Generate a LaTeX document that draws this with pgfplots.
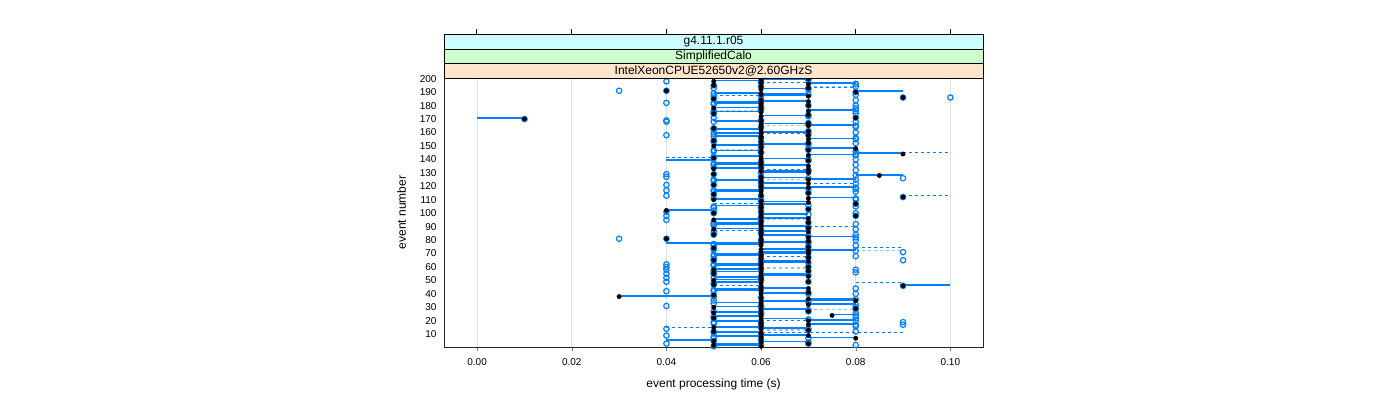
\documentclass[border=0pt]{standalone}
\usepackage{fontspec}
\setmainfont{Liberation Sans}
\usepackage{pgfplots}
\usepackage{pgfplotstable}
\pgfplotsset{compat=1.18}

\definecolor{lblue}{HTML}{0080FF}
\definecolor{pblue}{HTML}{8CC4FF}
\definecolor{stripA}{HTML}{CCFFFF}
\definecolor{stripB}{HTML}{CCFFCC}
\definecolor{stripC}{HTML}{FFE5CC}

% e = event number, b = black dot (this run), c = blue circle (reference)
\pgfplotstableread{
e b c
1 0.06 0.05
2 0.05 0.06
3 0.07 0.07
4 0.06 0.07
5 0.05 0.05
6 0.06 0.06
7 0.08 0.07
8 0.06 0.05
9 0.07 0.06
10 0.06 0.06
11 0.06 0.05
12 0.05 0.05
13 0.07 0.07
14 0.06 0.07
15 0.05 0.06
16 0.06 0.06
17 0.07 0.08
18 0.06 0.06
19 0.06 0.05
20 0.07 0.08
21 0.06 0.07
22 0.05 0.05
23 0.06 0.05
24 0.075 0.08
25 0.06 0.06
26 0.05 0.06
27 0.07 0.07
28 0.06 0.07
29 0.08 0.08
30 0.05 0.06
31 0.06 0.06
32 0.07 0.08
33 0.06 0.05
34 0.06 0.07
35 0.08 0.07
36 0.07 0.08
37 0.06 0.06
38 0.03 0.05
39 0.05 0.05
40 0.06 0.07
41 0.07 0.07
42 0.06 0.05
43 0.06 0.05
44 0.07 0.06
45 0.06 0.06
46 0.09 0.09
47 0.05 0.05
48 0.06 0.05
49 0.07 0.07
50 0.05 0.06
51 0.06 0.06
52 0.06 0.05
53 0.07 0.06
54 0.06 0.07
55 0.05 0.05
56 0.06 0.05
57 0.07 0.07
58 0.05 0.06
59 0.06 0.06
60 0.07 0.07
61 0.06 0.05
62 0.06 0.05
63 0.06 0.07
64 0.07 0.06
65 0.05 0.05
66 0.06 0.06
67 0.07 0.07
68 0.06 0.05
69 0.06 0.05
70 0.07 0.06
71 0.06 0.07
72 0.07 0.08
73 0.06 0.07
74 0.05 0.05
75 0.07 0.07
76 0.06 0.05
77 0.06 0.05
78 0.06 0.07
79 0.07 0.07
80 0.06 0.06
81 0.04 0.04
82 0.07 0.08
83 0.06 0.07
84 0.05 0.05
85 0.06 0.06
86 0.07 0.06
87 0.06 0.06
88 0.05 0.06
89 0.07 0.07
90 0.06 0.07
91 0.06 0.05
92 0.06 0.05
93 0.07 0.07
94 0.06 0.06
95 0.05 0.06
96 0.07 0.06
97 0.06 0.06
98 0.08 0.08
99 0.06 0.07
100 0.05 0.05
101 0.06 0.06
102 0.04 0.05
103 0.07 0.07
104 0.06 0.06
105 0.06 0.05
106 0.06 0.07
107 0.08 0.08
108 0.07 0.06
109 0.06 0.06
110 0.05 0.06
111 0.07 0.08
112 0.09 0.09
113 0.06 0.06
114 0.05 0.05
115 0.07 0.07
116 0.06 0.05
117 0.06 0.05
118 0.06 0.07
119 0.07 0.08
120 0.06 0.06
121 0.05 0.05
122 0.07 0.06
123 0.06 0.06
124 0.06 0.05
125 0.07 0.08
126 0.06 0.07
127 0.06 0.06
128 0.085 0.08
129 0.05 0.05
130 0.07 0.06
131 0.06 0.07
132 0.07 0.07
133 0.05 0.06
134 0.06 0.06
135 0.07 0.06
136 0.06 0.05
137 0.06 0.05
138 0.06 0.06
139 0.07 0.07
140 0.06 0.07
141 0.05 0.05
142 0.06 0.05
143 0.07 0.08
144 0.09 0.08
145 0.06 0.06
146 0.06 0.05
147 0.07 0.07
148 0.08 0.07
149 0.06 0.06
150 0.05 0.06
151 0.06 0.07
152 0.07 0.07
153 0.06 0.06
154 0.05 0.05
155 0.07 0.08
156 0.06 0.06
157 0.06 0.05
158 0.07 0.07
159 0.06 0.05
160 0.06 0.07
161 0.07 0.07
162 0.06 0.05
163 0.05 0.05
164 0.06 0.06
165 0.07 0.08
166 0.06 0.07
167 0.07 0.07
168 0.06 0.05
169 0.06 0.06
170 0.01 0.01
171 0.08 0.08
172 0.06 0.07
173 0.07 0.07
174 0.05 0.05
175 0.06 0.05
176 0.07 0.08
177 0.06 0.06
178 0.05 0.06
179 0.06 0.06
180 0.07 0.07
181 0.06 0.05
182 0.06 0.05
183 0.07 0.06
184 0.06 0.06
185 0.05 0.05
186 0.09 0.09
187 0.07 0.06
188 0.06 0.07
189 0.06 0.05
190 0.08 0.08
191 0.04 0.04
192 0.06 0.07
193 0.07 0.07
194 0.06 0.06
195 0.05 0.05
196 0.07 0.08
197 0.06 0.06
198 0.05 0.06
199 0.06 0.07
200 0.07 0.07
}\events

% further reference circles
\pgfplotstableread{
e x
198 0.04
191 0.03
182 0.04
169 0.04
168 0.04
158 0.04
129 0.04
127 0.04
121 0.04
117 0.04
113 0.04
101 0.04
98 0.04
95 0.04
81 0.03
62 0.04
60 0.04
58 0.04
55 0.04
52 0.04
49 0.04
42 0.04
31 0.04
14 0.04
9 0.04
3 0.04
186 0.10
126 0.09
71 0.09
65 0.09
19 0.09
17 0.09
196 0.08
194 0.08
188 0.08
184 0.08
180 0.08
178 0.08
174 0.08
168 0.08
164 0.08
160 0.08
156 0.08
152 0.08
146 0.08
140 0.08
136 0.08
132 0.08
122 0.08
118 0.08
116 0.08
110 0.08
105 0.08
100 0.08
92 0.08
88 0.08
84 0.08
80 0.08
76 0.08
68 0.08
58 0.08
56 0.08
44 0.08
40 0.08
30 0.08
26 0.08
22 0.08
16 0.08
12 0.08
2 0.08
193 0.05
187 0.05
176 0.05
171 0.05
163 0.05
153 0.05
147 0.05
134 0.05
125 0.05
111 0.05
104 0.05
93 0.05
86 0.05
73 0.05
66 0.05
57 0.05
35 0.05
27 0.05
18 0.05
7 0.05
}\circles

% extra solid steps: e, start, length
\pgfplotstableread{
e x0 len
170 0.00 0.01
190 0.08 0.01
128 0.08 0.01
46 0.09 0.01
139 0.04 0.01
77 0.04 0.01
5 0.04 0.01
}\steps

% dashed steps: e, start, length
\pgfplotstableread{
e x0 len
196 0.06 0.02
192 0.07 0.01
186 0.05 0.01
181 0.05 0.01
158 0.06 0.01
144 0.09 0.01
140 0.04 0.01
131 0.06 0.01
121 0.07 0.01
112 0.09 0.01
106 0.05 0.01
89 0.06 0.02
86 0.05 0.01
73 0.08 0.01
67 0.06 0.01
47 0.08 0.01
45 0.05 0.01
34 0.07 0.01
23 0.05 0.01
19 0.06 0.02
14 0.04 0.01
10 0.05 0.04
}\dashsteps

\pgfplotstableread{
e x0 len
193 0.07 0.01
175 0.05 0.01
164 0.06 0.01
146 0.05 0.01
124 0.06 0.01
94 0.06 0.01
71 0.08 0.01
58 0.06 0.01
27 0.07 0.01
12 0.06 0.01
}\paledash

\pgfplotsset{
    seg/.style={draw=none, mark=none, forget plot,
        error bars/.cd, x dir=plus, x explicit, error mark=none,
        error bar style={#1}},
}

\begin{document}
\begin{tikzpicture}
\useasboundingbox (0pt,0pt) rectangle (1400pt,400pt);
\begin{axis}[
    at={(444pt,53pt)}, anchor=south west,
    scale only axis, width=539pt, height=269pt,
    xmin=-0.0070, xmax=0.1069, ymin=0.5, ymax=200.5,
    xtick={0,0.02,0.04,0.06,0.08,0.1},
    ytick={10,20,...,200},
    scaled x ticks=false,
    xtick pos=bottom, ytick pos=left,
    tick align=outside, major tick length=4pt,
    ytick style={draw=none},
    x tick label style={/pgf/number format/fixed,
        /pgf/number format/fixed zerofill,
        /pgf/number format/precision=2, yshift=-4pt},
    tick label style={font=\fontsize{10}{12}\selectfont},
    /pgf/number format/assume math mode=true,
    xmajorgrids, grid style={black!12, line width=0.6pt},
    axis line style={black!85, line width=0.7pt},
    xlabel={event processing time (s)}, ylabel={event number},
    label style={font=\fontsize{12}{14}\selectfont},
    xlabel style={yshift=-6pt},
    ylabel style={yshift=7pt},
]
\addplot[seg={draw=pblue, line width=1.4pt, dashed}]
    table[x=x0, y expr=\thisrow{e}+1.2, x error=len] {\paledash};
\addplot[seg={draw=lblue, line width=0.8pt, dashed}]
    table[x=x0, y expr=\thisrow{e}+1.2, x error=len] {\dashsteps};
\addplot[seg={draw=lblue, line width=1.7pt, solid}]
    table[x expr={min(\thisrow{b},\thisrow{c})}, y expr=\thisrow{e}+0.6,
          x error expr={abs(\thisrow{b}-\thisrow{c})}] {\events};
\addplot[seg={draw=lblue, line width=1.7pt, solid}]
    table[x=x0, y expr=\thisrow{e}+0.6, x error=len] {\steps};
\addplot[only marks, mark=o, mark size=2.7pt,
    mark options={draw=lblue, line width=1.2pt}]
    table[x=x, y=e] {\circles};
\addplot[only marks, mark=o, mark size=2.7pt,
    mark options={draw=lblue, line width=1.2pt}]
    table[x=c, y=e] {\events};
\addplot[only marks, mark=*, mark size=2.2pt,
    mark options={draw=black, fill=black}]
    table[x=b, y=e] {\events};
\end{axis}
% strips
\draw[fill=stripC, line width=0.7pt] (444pt,322pt) rectangle (983pt,336.5pt);
\draw[fill=stripB, line width=0.7pt] (444pt,336.5pt) rectangle (983pt,351pt);
\draw[fill=stripA, line width=0.7pt] (444pt,351pt) rectangle (983pt,365.5pt);
\node[font=\fontsize{12}{14}\selectfont] at (713.5pt,329.25pt) {IntelXeonCPUE52650v2@2.60GHzS};
\node[font=\fontsize{12}{14}\selectfont] at (713.5pt,343.75pt) {SimplifiedCalo};
\node[font=\fontsize{12}{14}\selectfont] at (713.5pt,358.25pt) {g4.11.1.r05};
\foreach \t in {476.5,571.3,666.1,760.9,855.7,950.5}
    \draw[line width=0.7pt] (\t pt,365.5pt) -- (\t pt,370.8pt);
\end{tikzpicture}
\end{document}
